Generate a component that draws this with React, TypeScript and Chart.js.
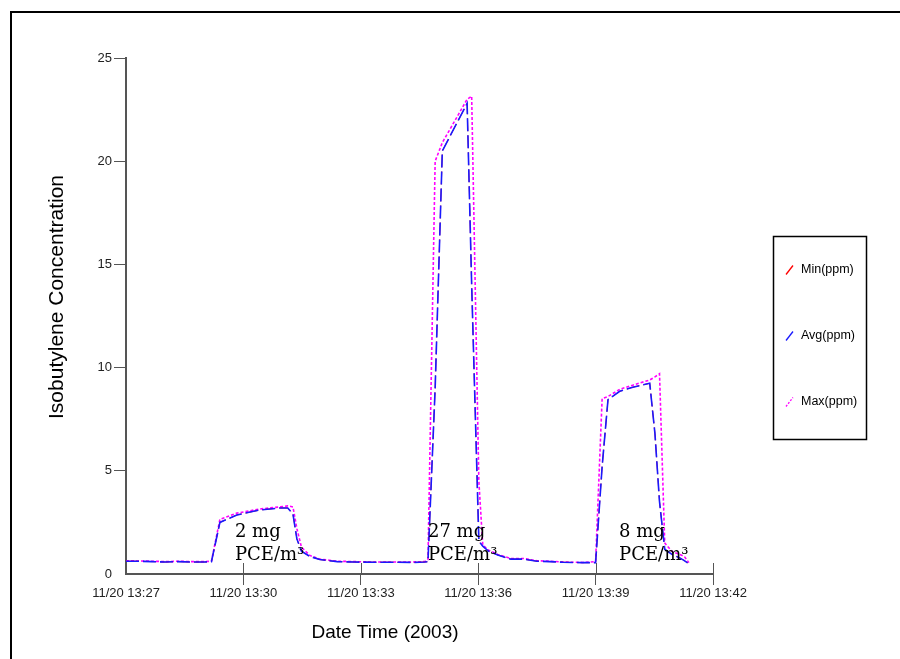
import { useEffect, useRef } from "react";
import { Chart, registerables } from "chart.js";

Chart.register(...registerables);

// ---- data (time in seconds after 11/20 13:27:00) ----
const seriesLabels = ["Min(ppm)", "Avg(ppm)", "Max(ppm)"];
const seriesColors = ["rgb(255,0,0)", "rgb(25,25,255)", "rgb(255,0,255)"];

const times = [
  0, 20, 40, 60, 80, 100, 120, 131,
  144, 170, 205, 236, 248, 256, 262, 269,
  282, 297, 324, 350, 380, 410, 440, 458,
  463, 474, 485, 523, 530, 541, 547, 556,
  570, 590, 610, 630, 650, 670, 700, 720,
  730, 739, 757, 777, 803, 811, 818, 826,
  837, 849, 856, 863,
];

const avgValues = [
  0.62, 0.62, 0.60, 0.58, 0.60, 0.58, 0.58, 0.60,
  2.50, 2.86, 3.10, 3.20, 3.20, 2.90, 1.70, 1.10,
  0.85, 0.70, 0.60, 0.58, 0.57, 0.57, 0.56, 0.58,
  0.60, 9.00, 20.50, 22.80, 14.00, 1.60, 1.35, 1.10,
  0.92, 0.72, 0.72, 0.62, 0.60, 0.57, 0.55, 0.55,
  5.20, 8.45, 8.85, 9.05, 9.24, 6.80, 3.50, 1.20,
  0.95, 0.78, 0.65, 0.50,
];

const minValues = [
  0.62, 0.62, 0.60, 0.58, 0.60, 0.58, 0.58, 0.60,
  2.50, 2.86, 3.10, 3.20, 3.20, 2.90, 1.70, 1.10,
  0.85, 0.70, 0.60, 0.58, 0.57, 0.57, 0.56, 0.58,
  0.60, 9.00, 20.50, 22.80, 14.00, 1.60, 1.35, 1.10,
  0.92, 0.72, 0.72, 0.62, 0.60, 0.57, 0.55, 0.55,
  5.20, 8.45, 8.85, 9.05, 9.24, 6.80, 3.50, 1.20,
  0.95, 0.78, 0.65, 0.50,
];

const maxValues = [
  0.64, 0.63, 0.62, 0.60, 0.62, 0.60, 0.60, 0.62,
  2.65, 2.95, 3.15, 3.25, 3.30, 3.25, 2.20, 1.30,
  0.90, 0.72, 0.62, 0.60, 0.58, 0.58, 0.58, 0.60,
  0.70, 20.00, 20.90, 23.00, 23.15, 4.50, 1.40, 1.15,
  0.95, 0.75, 0.75, 0.64, 0.62, 0.58, 0.56, 0.60,
  8.50, 8.60, 8.95, 9.15, 9.40, 9.55, 9.70, 1.50,
  1.10, 0.95, 0.85, 0.55,
];

const xMin = 0;
const xMax = 900;
const xStep = 180;
const yMin = 0;
const yMax = 25;
const yStep = 5;
const startDate = "11/20";
const startMinuteOfDay = 13 * 60 + 27;

const annotationTimes = [167, 463, 756];
const annotationMass = ["2 mg", "27 mg", "8 mg"];
const annotationUnit = "PCE/m\u00b3";
const annotationValue = 1.79;

const xTitle = "Date Time (2003)";
const yTitle = "Isobutylene Concentration";

const SANS = "'Liberation Sans', Arial, sans-serif";
const SERIF = "'DejaVu Serif', serif";

function fmtTick(v: number) {
  const m = startMinuteOfDay + Math.round(v / 60);
  const hh = Math.floor(m / 60);
  const mm = m % 60;
  return `${startDate} ${hh}:${mm < 10 ? "0" + mm : mm}`;
}

const dashes: number[][] = [[13, 4], [13, 4], [3, 2]];

const decorPlugin = {
  id: "decor",
  afterDraw(chart: any) {
    const ctx = chart.ctx as CanvasRenderingContext2D;
    const xs = chart.scales.x;
    const ys = chart.scales.y;
    ctx.save();

    // outer frame
    ctx.strokeStyle = "#000";
    ctx.lineWidth = 2;
    ctx.strokeRect(11, 12, 1000, 1000);

    // upper halves of x ticks
    const axisY = ys.getPixelForValue(0);
    ctx.strokeStyle = "#555";
    ctx.lineWidth = 1;
    xs.ticks.forEach((t: any, i: number) => {
      if (i === 0) return;
      const px = Math.round(xs.getPixelForValue(t.value)) + 0.5;
      ctx.beginPath();
      ctx.moveTo(px, axisY);
      ctx.lineTo(px, axisY - 11);
      ctx.stroke();
    });

    // axis titles
    ctx.fillStyle = "#000";
    ctx.textAlign = "center";
    ctx.textBaseline = "middle";
    ctx.font = `19px ${SANS}`;
    ctx.fillText(xTitle, 385, 633);
    ctx.save();
    ctx.font = `21px ${SANS}`;
    ctx.translate(57, 297);
    ctx.rotate(-Math.PI / 2);
    ctx.fillText(yTitle, 0, 0);
    ctx.restore();

    // annotations
    ctx.font = `18px ${SERIF}`;
    ctx.textAlign = "left";
    ctx.textBaseline = "alphabetic";
    const by = ys.getPixelForValue(annotationValue);
    annotationTimes.forEach((t, i) => {
      const px = xs.getPixelForValue(t);
      ctx.fillText(annotationMass[i], px, by);
      ctx.fillText(annotationUnit, px, by + 22.5);
    });

    // legend box
    ctx.strokeStyle = "#000";
    ctx.lineWidth = 1.5;
    ctx.strokeRect(773.5, 236.5, 93, 203);
    ctx.font = `12.5px ${SANS}`;
    ctx.textBaseline = "middle";
    ctx.textAlign = "left";
    seriesLabels.forEach((lab, i) => {
      const cy = 270 + i * 66;
      ctx.strokeStyle = seriesColors[i];
      ctx.lineWidth = 1.3;
      ctx.setLineDash(i === 2 ? [2, 1.5] : []);
      ctx.beginPath();
      ctx.moveTo(786, cy + 4.5);
      ctx.lineTo(793, cy - 4.5);
      ctx.stroke();
      ctx.setLineDash([]);
      ctx.fillStyle = "#000";
      ctx.fillText(lab, 801, cy);
    });

    ctx.restore();
  },
};

export default function App() {
  const ref = useRef<HTMLCanvasElement | null>(null);

  useEffect(() => {
    if (!ref.current) return;
    const valueSets = [minValues, avgValues, maxValues];
    const orders = [1, 0, 2];
    const widths = [1, 1.6, 1.6];
    const chart = new Chart(ref.current, {
      type: "line",
      data: {
        datasets: seriesLabels.map((label, k) => ({
          label,
          data: times.map((t, i) => ({ x: t, y: valueSets[k][i] })),
          borderColor: seriesColors[k],
          backgroundColor: seriesColors[k],
          borderWidth: widths[k],
          borderDash: dashes[k],
          pointRadius: 0,
          tension: 0,
          fill: false,
          order: orders[k],
        })),
      },
      options: {
        animation: false,
        responsive: false,
        devicePixelRatio: 1,
        layout: { padding: { left: 0, top: 58, right: 187, bottom: 0 } },
        plugins: {
          legend: { display: false },
          title: { display: false },
          tooltip: { enabled: false },
        },
        scales: {
          x: {
            type: "linear",
            min: xMin,
            max: xMax,
            afterFit: (s: any) => {
              s.height = 85;
            },
            ticks: {
              stepSize: xStep,
              autoSkip: false,
              maxRotation: 0,
              padding: 1,
              color: "#222",
              font: { family: SANS, size: 13 },
              callback: (v: any) => fmtTick(Number(v)),
            },
            grid: {
              drawOnChartArea: false,
              drawTicks: true,
              tickLength: 11,
              color: (c: any) => (c.index === 0 ? "rgba(0,0,0,0)" : "#555"),
            },
            border: { display: true, color: "#555", width: 2 },
          },
          y: {
            type: "linear",
            min: yMin,
            max: yMax,
            afterFit: (s: any) => {
              s.width = 126;
            },
            ticks: {
              stepSize: yStep,
              padding: 2,
              color: "#222",
              font: { family: SANS, size: 13 },
            },
            grid: {
              drawOnChartArea: false,
              drawTicks: true,
              tickLength: 12,
              color: (c: any) => (c.index === 0 ? "rgba(0,0,0,0)" : "#555"),
            },
            border: { display: true, color: "#555", width: 2 },
          },
        },
      },
      plugins: [decorPlugin],
    });
    return () => chart.destroy();
  }, []);

  return (
    <div style={{ position: "fixed", left: 0, top: 0, width: 900, height: 659, background: "#fff" }}>
      <canvas ref={ref} width={900} height={659} style={{ display: "block" }} />
    </div>
  );
}
